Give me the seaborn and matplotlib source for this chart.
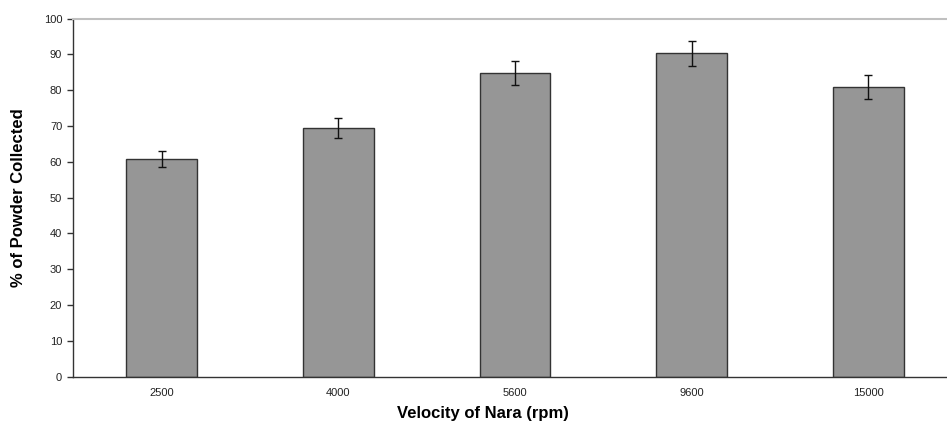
import numpy as np
import pandas as pd
import matplotlib
matplotlib.use('Agg')
import matplotlib.pyplot as plt
import seaborn as sns

velocity = ['2500', '4000', '5600', '9600', '15000']
collected = [60.8, 69.4, 84.8, 90.3, 81.0]
err = [2.3, 2.8, 3.4, 3.6, 3.3]

sns.set_style('white')
plt.rcParams['font.family'] = ['Liberation Sans', 'DejaVu Sans']

df = pd.DataFrame({'velocity': velocity, 'collected': collected})

fig = plt.figure(figsize=(9.47, 4.23), dpi=100)
ax = fig.add_axes([0.0774, 0.1095, 0.933, 0.8463])

sns.barplot(data=df, x='velocity', y='collected', order=velocity, color='#969696',
            width=0.4, edgecolor='#333333', linewidth=1, saturation=1, errorbar=None, ax=ax)
pos = np.arange(len(velocity))
ax.errorbar(pos, collected, yerr=err, fmt='none', ecolor='#111111', elinewidth=1,
            capsize=3, capthick=1)

ax.set_xlim(-0.5, len(velocity) - 0.5)
ax.set_ylim(0, 100)
ax.set_yticks(range(0, 101, 10))
ax.set_xticks(pos)
ax.set_xticks(np.arange(-0.5, len(velocity), 1), minor=True)
ax.tick_params(axis='x', which='major', length=0, pad=8, labelsize=8, colors='#222222')
ax.tick_params(axis='x', which='minor', length=4, width=1, color='#333333', direction='out')
ax.tick_params(axis='y', length=4, width=1, color='#333333', direction='out', pad=4,
               labelsize=8, labelcolor='#222222', left=True)

for s in ['left', 'bottom']:
    ax.spines[s].set_color('#333333')
    ax.spines[s].set_linewidth(1)
ax.spines['top'].set_color('#c0c0c0')
ax.spines['top'].set_linewidth(1.5)
ax.spines['right'].set_visible(False)

ax.set_xlabel('Velocity of Nara (rpm)', fontsize=12, fontweight='bold', color='black')
ax.xaxis.set_label_coords(0.464, -0.083)
ax.xaxis.label.set_va('top')
ax.set_ylabel('% of Powder Collected', fontsize=12, fontweight='bold', color='black')
ax.yaxis.set_label_coords(-0.054, 0.5)

fig.savefig('out.png', dpi=100)
